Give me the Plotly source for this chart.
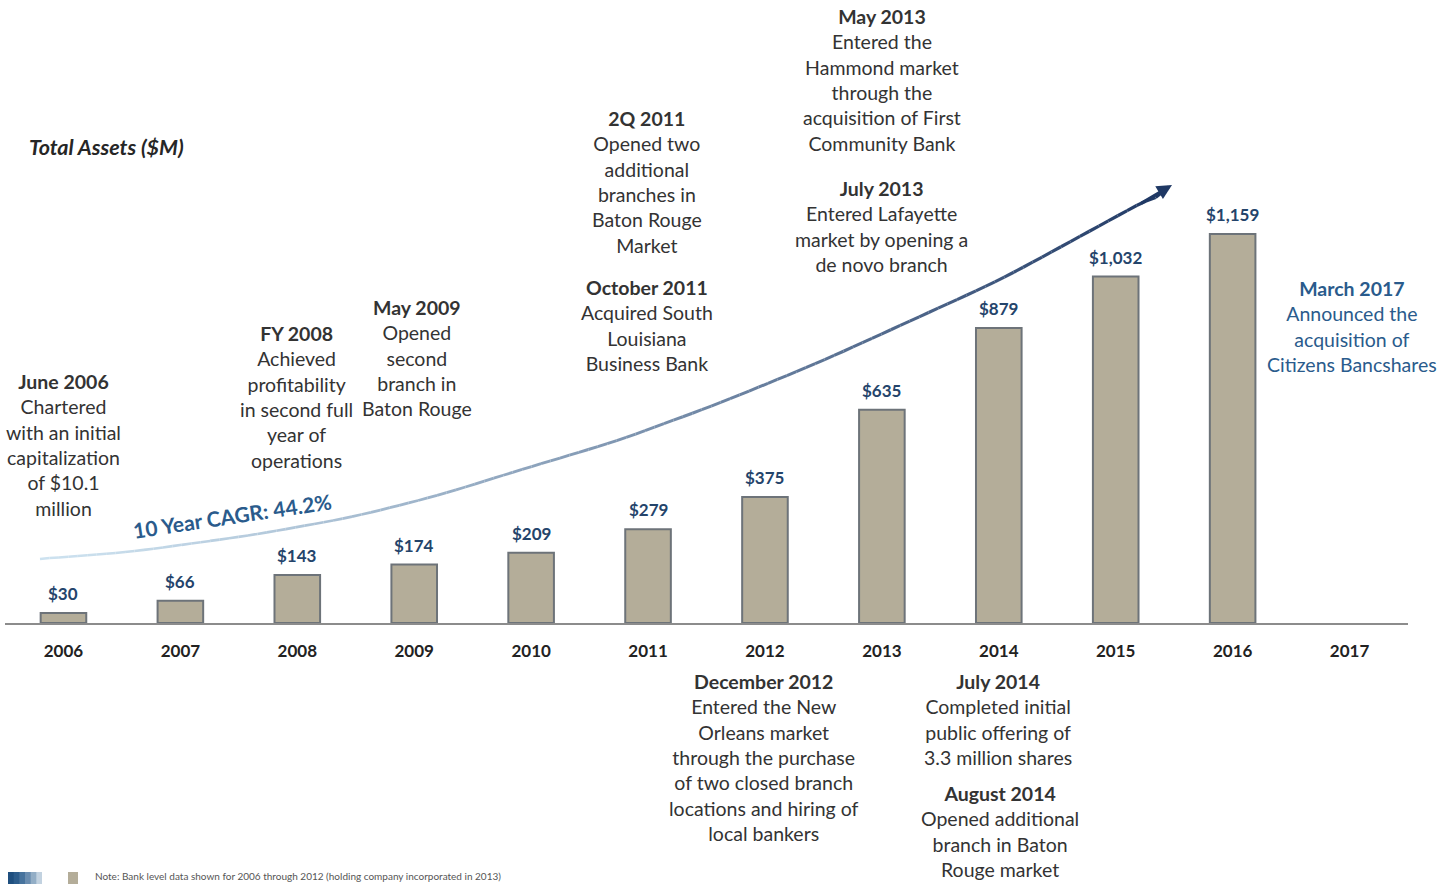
import plotly.graph_objects as go
import numpy as np

# ---------------- data ----------------
years = ["2006", "2007", "2008", "2009", "2010", "2011", "2012", "2013", "2014", "2015", "2016", "2017"]
total_assets = [30, 66, 143, 174, 209, 279, 375, 635, 879, 1032, 1159, None]
value_labels = ["$30", "$66", "$143", "$174", "$209", "$279", "$375", "$635", "$879", "$1,032", "$1,159", ""]

# ---------------- layout geometry (pixels of 1455x884 page) ----------------
W, H = 1455, 884
L, R, T, B = 5, 47, 0, 261
PW, PH = W - L - R, H - T - B
PX_PER_UNIT = 0.3357
YMAX = PH / PX_PER_UNIT


def px(x):
    return (x - L) / PW


def py(y):
    return (H - B - y) / PH


FONT = "Lato"
DARK = "#262626"
TEXT = "#333333"
NAVY = "#24446b"
BLUE = "#2a5b8c"

fig = go.Figure()
fig.add_trace(go.Bar(
    x=years, y=total_assets, width=0.39,
    marker=dict(color="#b4ad99", line=dict(color="#6d7379", width=2)),
    hoverinfo="skip", showlegend=False,
))

annotations = []
# value labels (x given as category index)
for i, (v, lab) in enumerate(zip(total_assets, value_labels)):
    if v is None:
        continue
    annotations.append(dict(x=i, y=v, xref="x", yref="y", text=f"<b>{lab}</b>",
                            showarrow=False, yanchor="bottom", yshift=7,
                            font=dict(family=FONT, size=17, color=NAVY)))

# event annotations: (center x px, center y px, text, color)
events = [
    (63, 445, "<b>June 2006</b><br>Chartered<br>with an initial<br>capitalization<br>of $10.1<br>million", TEXT),
    (296, 397, "<b>FY 2008</b><br>Achieved<br>profitability<br>in second full<br>year of<br>operations", TEXT),
    (417, 358, "<b>May 2009</b><br>Opened<br>second<br>branch in<br>Baton Rouge", TEXT),
    (647, 182, "<b>2Q 2011</b><br>Opened two<br>additional<br>branches in<br>Baton Rouge<br>Market", TEXT),
    (647, 325, "<b>October 2011</b><br>Acquired South<br>Louisiana<br>Business Bank", TEXT),
    (882, 80, "<b>May 2013</b><br>Entered the<br>Hammond market<br>through the<br>acquisition of First<br>Community Bank", TEXT),
    (882, 227, "<b>July 2013</b><br>Entered Lafayette<br>market by opening a<br>de novo branch", TEXT),
    (1352, 326, "<b>March 2017</b><br>Announced the<br>acquisition of<br>Citizens Bancshares", BLUE),
    (764, 757, "<b>December 2012</b><br>Entered the New<br>Orleans market<br>through the purchase<br>of two closed branch<br>locations and hiring of<br>local bankers", TEXT),
    (998, 719, "<b>July 2014</b><br>Completed initial<br>public offering of<br>3.3 million shares", TEXT),
    (1000, 831, "<b>August 2014</b><br>Opened additional<br>branch in Baton<br>Rouge market", TEXT),
]
for cx, cy, txt, col in events:
    annotations.append(dict(x=px(cx), y=py(cy), xref="paper", yref="paper", text=txt,
                            showarrow=False, xanchor="center", yanchor="middle", align="center",
                            font=dict(family=FONT, size=19.5, color=col)))

annotations.append(dict(x=px(27), y=py(147), xref="paper", yref="paper",
                        text="<i><b>Total Assets ($M)</b></i>", showarrow=False,
                        xanchor="left", yanchor="middle",
                        font=dict(family=FONT, size=21.5, color=DARK)))

annotations.append(dict(x=px(232), y=py(515), xref="paper", yref="paper",
                        text="<b>10 Year CAGR: 44.2%</b>", showarrow=False, textangle=-8.5,
                        xanchor="center", yanchor="middle",
                        font=dict(family=FONT, size=21, color=BLUE)))

annotations.append(dict(x=px(93), y=py(884), xref="paper", yref="paper",
                        text="Note: Bank level data shown for 2006 through 2012 (holding company incorporated in 2013)",
                        showarrow=False, xanchor="left", yanchor="bottom",
                        font=dict(family=FONT, size=10, color="#555555")))

# growth arrow curve (decorative), traced points in pixels
curve_px_x = [40, 130, 253, 353, 440, 520, 620, 720, 820, 1000, 1165]
curve_px_y = [559, 552, 535, 517, 495, 470, 440, 403, 362, 280, 190]
ts = np.linspace(curve_px_x[0], curve_px_x[-1], 120)
cx = ts
cy = np.interp(ts, curve_px_x, curve_px_y)
k = 3
pad_y = np.concatenate([[cy[0]] * k, cy, [cy[-1]] * k])
ker = np.ones(2 * k + 1) / (2 * k + 1)
sy = np.convolve(pad_y, ker, mode="same")[k:-k]
sx = cx
sy[0], sy[-1] = cy[0], cy[-1]

c0 = np.array([205, 226, 240])
c1 = np.array([31, 56, 100])
shapes = []
n = len(sx) - 1
for i in range(n):
    f = i / n
    c = (c0 + (c1 - c0) * f ** 1.2).astype(int)
    shapes.append(dict(type="line", xref="paper", yref="paper",
                       x0=px(sx[i]), y0=py(sy[i]), x1=px(sx[i + 1]), y1=py(sy[i + 1]),
                       line=dict(color=f"rgb({c[0]},{c[1]},{c[2]})", width=2.5 + 0.8 * f)))
annotations.append(dict(x=px(1172), y=py(185), xref="paper", yref="paper",
                        ax=-32, ay=19, axref="pixel", ayref="pixel",
                        showarrow=True, arrowhead=2, arrowsize=1, arrowwidth=3,
                        arrowcolor="rgb(31,56,100)", text=""))

# small legend-like swatches at bottom left (gradient navy + taupe)
sw_cols = ["#1f4f7f", "#2d5d8c", "#47739d", "#6a8db0", "#93aec6", "#c2d2e0"]
sw_w = 34 / len(sw_cols)
for j, col in enumerate(sw_cols):
    x_end = 8 + (j + 1) * sw_w + (1.2 if j < len(sw_cols) - 1 else 0)
    shapes.append(dict(type="rect", xref="paper", yref="paper",
                       x0=px(8 + j * sw_w), x1=px(x_end), y0=py(884), y1=py(872),
                       fillcolor=col, line=dict(width=0), layer="below"))
shapes.append(dict(type="rect", xref="paper", yref="paper", x0=px(68), x1=px(78), y0=py(884), y1=py(872),
                   fillcolor="#b4ad99", line=dict(width=0)))

fig.update_layout(
    width=W, height=H,
    margin=dict(l=L, r=R, t=T, b=B),
    paper_bgcolor="white", plot_bgcolor="white",
    xaxis=dict(type="category", categoryorder="array", categoryarray=years,
               range=[-0.5, 11.5], showline=True, linecolor="#8c8c8c", linewidth=2,
               showgrid=False, ticks="", ticklabelstandoff=12,
               tickfont=dict(family=FONT, size=17, color="#222222", weight="bold")),
    yaxis=dict(range=[0, YMAX], visible=False, showgrid=False, zeroline=False),
    annotations=annotations, shapes=shapes,
    bargap=0.6,
)

fig.write_html("out.html", config={"displayModeBar": False},
               post_script="document.body.style.margin='0px';document.body.style.overflow='hidden';")
